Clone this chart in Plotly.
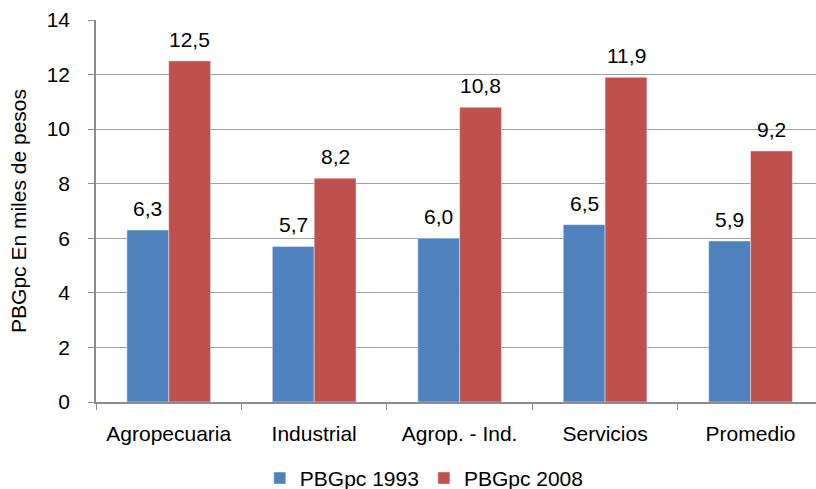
import plotly.graph_objects as go

categories = ["Agropecuaria", "Industrial", "Agrop. - Ind.", "Servicios", "Promedio"]
pbg_1993 = [6.3, 5.7, 6.0, 6.5, 5.9]
pbg_2008 = [12.5, 8.2, 10.8, 11.9, 9.2]
series_names = ["PBGpc 1993", "PBGpc 2008"]
y_ticks = [0, 2, 4, 6, 8, 10, 12, 14]

BLUE = "#4F81BD"
RED = "#C0504D"
GRID = "#A0A0A0"
FONT = "Liberation Sans, Arial, sans-serif"
FS = 21

fig = go.Figure()
fig.add_trace(go.Bar(x=categories, y=pbg_1993, name=series_names[0], marker_color=BLUE))
fig.add_trace(go.Bar(x=categories, y=pbg_2008, name=series_names[1], marker_color=RED))

def fmt(v):
    return f"{v:.1f}".replace(".", ",")

annotations = []
for cat, a, b in zip(categories, pbg_1993, pbg_2008):
    for val, shift in ((a, -21), (b, 21)):
        annotations.append(dict(
            x=cat, y=val, xref="x", yref="y", text=fmt(val), showarrow=False,
            xshift=shift, yshift=8, yanchor="bottom",
            font=dict(size=FS, color="#000000", family=FONT),
        ))

fig.update_layout(
    width=816, height=489,
    margin=dict(l=96, r=0, t=20, b=87, autoexpand=False),
    paper_bgcolor="white", plot_bgcolor="white",
    font=dict(family=FONT, size=FS, color="#000000"),
    barmode="group", bargap=0.425, bargroupgap=0,
    separators=",.",
    showlegend=True,
    legend=dict(orientation="h", x=0.2275, xanchor="left", y=-0.2, yanchor="middle",
                font=dict(size=FS), itemwidth=30, traceorder="normal"),
    annotations=annotations,
)
fig.update_xaxes(
    range=[-0.5, 4.45], showline=True, linecolor="#8C8C8C", linewidth=1.5,
    ticks="outside", tickson="boundaries", ticklen=6, tickcolor="#8C8C8C",
    ticklabelstandoff=12, showgrid=False, tickfont=dict(size=FS), automargin=False,
)
fig.update_yaxes(
    range=[0, 14], tickvals=y_ticks, showline=True, linecolor="#8C8C8C", linewidth=1.5,
    ticks="outside", ticklen=6, tickcolor="#8C8C8C", ticklabelstandoff=14,
    showgrid=True, gridcolor=GRID, gridwidth=1.2, zeroline=False,
    tickfont=dict(size=FS), automargin=False,
    title=dict(text="PBGpc En miles de pesos", font=dict(size=FS), standoff=14),
)

fig.write_html("out.html", config={"displayModeBar": False},
               post_script="document.body.style.margin='0';document.body.style.overflow='hidden';")
